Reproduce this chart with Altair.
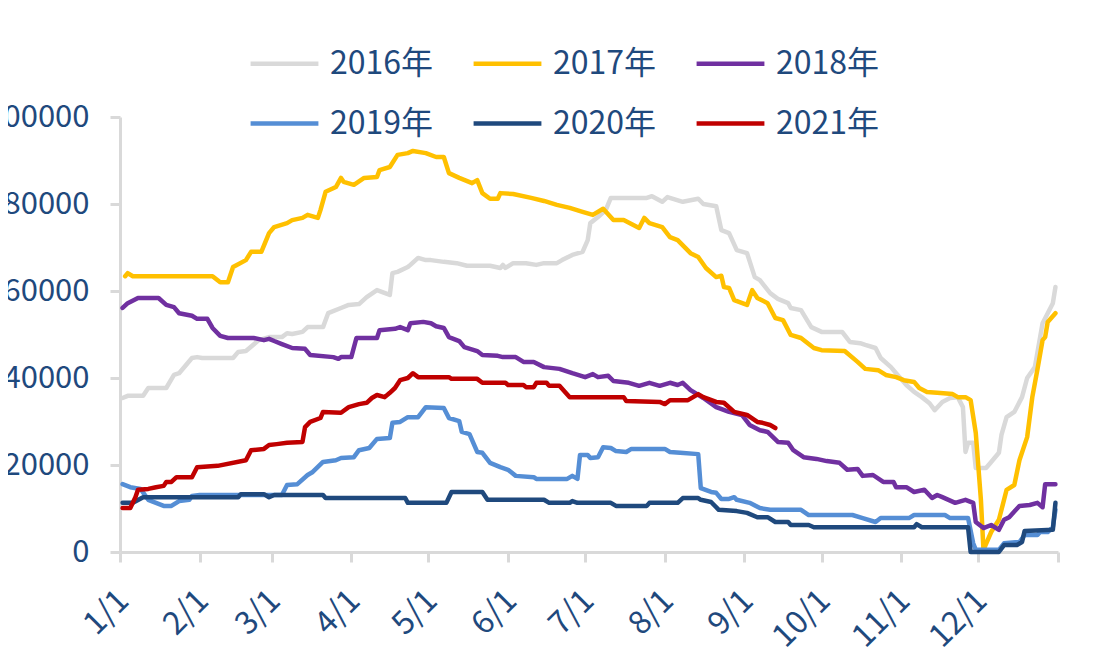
import altair as alt
import pandas as pd

years = ["2016年", "2017年", "2018年", "2019年", "2020年", "2021年"]
colors = ["#D9D9D9", "#FFC000", "#7030A0", "#558ED5", "#1F497D", "#C00000"]
widths = [4.5, 4.5, 4.5, 4.5, 4.5, 8]

month_days = [0, 31, 59, 90, 120, 151, 181, 212, 243, 273, 304, 334, 365]
month_labels = ["1/1", "2/1", "3/1", "4/1", "5/1", "6/1", "7/1", "8/1", "9/1",
                "10/1", "11/1", "12/1", ""]
y_ticks = [0, 20000, 40000, 60000, 80000, 100000]

# day of year (0 = 1/1) and value for each series
d2016 = [1, 3, 9, 11, 18, 21, 23, 28, 30, 32, 44, 46, 49, 54, 58, 63, 65, 67, 71, 73, 79, 81, 86,
         89, 93, 96, 100, 105, 106, 108, 112, 113, 116, 119, 121, 126, 131, 135, 144, 148, 149,
         150, 153, 158, 162, 165, 170, 172, 176, 180, 182, 183, 186, 189, 191, 205, 207, 211, 213,
         219, 225, 227, 232, 234, 237, 240, 244, 247, 249, 253, 256, 260, 261, 265, 269, 273, 281,
         284, 288, 290, 294, 296, 300, 302, 306, 309, 312, 315, 317, 320, 323, 326, 328, 329, 330,
         332, 333, 337, 339, 342, 343, 345, 348, 351, 353, 356, 359, 361, 363, 364]
v2016 = [35400, 35900, 35900, 37700, 37700, 40700, 41100, 44600, 44800, 44600, 44600, 46000, 46200,
         48700, 49400, 49400, 50300, 50100, 50600, 51700, 51700, 54900, 56100, 56800, 57000, 58600,
         60200, 59100, 64100, 64400, 65500, 66000, 67600, 67100, 67100, 66700, 66400, 65800, 65800,
         65300, 66000, 65300, 66400, 66400, 66000, 66400, 66400, 67100, 68300, 69000, 71700, 75600,
         77000, 78600, 81400, 81400, 81800, 80500, 81600, 80500, 81200, 80000, 79500, 74000, 73300,
         69400, 68700, 63200, 62500, 59500, 58200, 57200, 56100, 55600, 51700, 50600, 50600, 48300,
         48000, 47600, 46900, 44600, 42500, 41100, 38400, 36800, 35600, 34200, 32600, 34500, 35400,
         35600, 33300, 23000, 25100, 25100, 19300, 19300, 20700, 22800, 26900, 31000, 32200, 35600,
         40000, 42500, 52600, 54900, 57200, 60900]

d2017 = [2, 3, 5, 36, 39, 42, 44, 49, 51, 55, 58, 60, 65, 67, 71, 73, 77, 78, 80, 84, 86, 87, 91,
         95, 100, 101, 105, 108, 112, 114, 119, 123, 126, 128, 132, 137, 139, 141, 144, 147, 148,
         153, 160, 165, 170, 175, 180, 184, 188, 192, 196, 202, 204, 206, 211, 214, 217, 222, 225,
         228, 232, 234, 235, 237, 239, 244, 246, 248, 252, 255, 258, 261, 265, 270, 273, 282, 287,
         290, 295, 298, 302, 305, 309, 311, 314, 318, 324, 326, 329, 331, 333, 335, 336, 339, 342,
         345, 348, 350, 353, 355, 357, 359, 360, 361, 364]
v2017 = [63400, 64100, 63400, 63400, 62000, 62000, 65500, 67100, 69000, 69000, 73300, 74700, 75600,
         76300, 76800, 77500, 76800, 78600, 82800, 83900, 86000, 85100, 84400, 86000, 86200, 87800,
         88500, 91300, 91700, 92200, 91700, 90800, 90800, 87100, 86000, 84800, 85500, 82500, 81200,
         81200, 82500, 82300, 81400, 80700, 79800, 79100, 78200, 77500, 78900, 76300, 76300, 74500,
         76800, 75600, 74700, 72400, 71700, 68700, 67800, 65300, 63200, 63500, 60900, 60700, 57900,
         56800, 60200, 58400, 57200, 53800, 53300, 49900, 49200, 46900, 46400, 46200, 43700, 42100,
         41800, 40700, 40200, 39500, 39100, 37700, 36800, 36600, 36300, 35600, 35600, 34900, 27400,
         12000, 500, 4600, 7400, 14300, 15400, 21100, 26400, 35600, 42000, 48700, 49400, 52900,
         54900]

d2018 = [1, 3, 7, 15, 18, 21, 23, 28, 30, 34, 36, 39, 42, 52, 56, 58, 60, 63, 67, 72, 74, 83, 85,
         86, 90, 92, 100, 101, 107, 109, 112, 113, 118, 121, 123, 126, 128, 132, 134, 139, 141, 147,
         149, 154, 157, 161, 165, 171, 176, 181, 184, 186, 190, 192, 198, 202, 206, 210, 214, 217,
         219, 222, 227, 232, 237, 242, 245, 249, 252, 256, 260, 262, 266, 271, 275, 280, 283, 287,
         289, 293, 297, 301, 302, 306, 309, 313, 316, 318, 320, 325, 329, 332, 333, 336, 339, 342,
         344, 346, 350, 354, 357, 359, 360, 364]
v2018 = [56100, 57200, 58400, 58400, 56800, 56300, 54900, 54300, 53600, 53600, 51500, 49700, 49200,
         49200, 48700, 49000, 48500, 47800, 46900, 46700, 45300, 44800, 44400, 44800, 44800, 49200,
         49200, 51000, 51300, 51700, 51000, 52600, 52900, 52600, 51900, 51500, 49400, 48500, 47100,
         46200, 45300, 45100, 44800, 44800, 43700, 43700, 42500, 42100, 41100, 40200, 40900, 40200,
         40500, 39300, 38900, 38200, 38900, 38200, 38900, 38400, 38900, 37200, 35400, 33300, 32200,
         31500, 29200, 28000, 27600, 25300, 25100, 23400, 21800, 21400, 20900, 20500, 18900, 19100,
         17500, 17700, 16100, 16100, 14900, 14900, 13800, 14300, 12400, 13100, 12600, 11300, 12000,
         11300, 6900, 5500, 6200, 5100, 7400, 8000, 10600, 10800, 11300, 10300, 15600, 15600]

d2019 = [1, 4, 8, 11, 17, 20, 23, 27, 28, 31, 63, 65, 69, 73, 75, 79, 84, 86, 91, 93, 97, 100, 105,
         106, 109, 112, 116, 119, 126, 128, 132, 133, 136, 139, 141, 144, 148, 151, 154, 161, 162,
         174, 176, 178, 179, 182, 183, 186, 188, 191, 193, 197, 199, 212, 214, 218, 225, 226, 230,
         232, 234, 237, 239, 240, 245, 249, 253, 265, 268, 285, 289, 294, 296, 307, 309, 321, 323,
         330, 332, 333, 342, 344, 350, 352, 357, 358, 361, 363, 364]
v2019 = [15600, 14900, 14500, 12000, 10600, 10600, 11700, 12000, 12900, 13100, 13100, 15400, 15600,
         17700, 18400, 20700, 21100, 21600, 21800, 23400, 23900, 26000, 26200, 29700, 29900, 31000,
         31000, 33300, 33100, 30800, 30100, 27600, 27100, 23000, 22800, 20500, 19500, 18900, 17500,
         17200, 16800, 16800, 17500, 16800, 22300, 22300, 21600, 21800, 24100, 23900, 23200, 23000,
         23700, 23700, 23000, 22800, 22500, 14700, 13800, 13600, 12200, 12200, 12600, 12000, 11300,
         10100, 9700, 9700, 8500, 8500, 7800, 6900, 7800, 7800, 8500, 8500, 7800, 7800, 2000, 500,
         500, 2000, 2300, 3900, 3900, 4600, 4600, 5700, 9700]

d2020 = [1, 5, 9, 46, 47, 56, 58, 60, 79, 80, 111, 112, 127, 129, 141, 143, 165, 167, 175, 176,
         178, 191, 193, 205, 206, 217, 219, 225, 226, 230, 233, 240, 244, 248, 252, 255, 260, 261,
         268, 270, 309, 310, 312, 330, 331, 342, 344, 349, 351, 352, 363, 364]
v2020 = [11300, 11300, 12600, 12600, 13300, 13300, 12600, 13100, 13100, 12400, 12400, 11300, 11300,
         13800, 13800, 12000, 12000, 11300, 11300, 11700, 11300, 11300, 10600, 10600, 11300, 11300,
         12400, 12400, 12000, 11500, 9700, 9400, 9000, 8000, 8000, 6900, 6900, 6200, 6200, 5700,
         5700, 6400, 5700, 5700, 0, 0, 1600, 1600, 2300, 4800, 5100, 11300]

d2021 = [1, 4, 6, 7, 11, 14, 17, 18, 20, 22, 28, 30, 38, 49, 51, 56, 58, 61, 65, 71, 72, 74, 78,
         79, 86, 89, 93, 96, 98, 100, 103, 105, 107, 109, 112, 114, 116, 128, 129, 139, 141, 150,
         151, 157, 158, 161, 162, 166, 167, 171, 175, 196, 197, 210, 212, 214, 221, 225, 227, 232,
         235, 239, 244, 248, 250, 253, 255]
v2021 = [10100, 10100, 12600, 14300, 14500, 14900, 15200, 16100, 16100, 17200, 17200, 19500, 19800,
         21100, 23400, 23700, 24600, 24800, 25100, 25300, 28700, 29900, 30800, 32200, 32000, 33300,
         34000, 34300, 35400, 36100, 35600, 36600, 37700, 39500, 40000, 41100, 40200, 40200, 39800,
         39800, 38900, 38900, 38400, 38400, 37900, 37900, 38900, 38900, 38200, 38200, 35600, 35600,
         34700, 34500, 34000, 34900, 34900, 36300, 35600, 34500, 34300, 32200, 31500, 29900, 29700,
         29200, 28500]

series = [(d2016, v2016), (d2017, v2017), (d2018, v2018),
          (d2019, v2019), (d2020, v2020), (d2021, v2021)]
frames = []
for name, (d, v) in zip(years, series):
    frames.append(pd.DataFrame({"day": d, "value": v, "year": name}))
df = pd.concat(frames, ignore_index=True)

text_color = "#1F497D"
font = "Noto Sans CJK SC"
axis_gray = "#D9D9D9"

label_expr = ("[" + ",".join("'" + s + "'" for s in month_labels) + "][indexof(["
              + ",".join(str(m) for m in month_days) + "], datum.value)]")

legend = alt.Legend(
    title=None, orient="none", legendX=128, legendY=-90, columns=3, direction="horizontal",
    symbolType="stroke", symbolSize=4600, labelFontSize=32, labelFont=font,
    labelColor=text_color, labelOffset=9, columnPadding=30, rowPadding=7,
    labelLimit=300,
)

chart = alt.Chart(df).mark_line(strokeCap="round", strokeJoin="round").encode(
    x=alt.X("day:Q",
            scale=alt.Scale(domain=[0, 365], nice=False, zero=False),
            axis=alt.Axis(values=month_days, labelExpr=label_expr, title=None, grid=False,
                          labelAngle=-45, labelAlign="right", labelBaseline="middle",
                          labelFontSize=32, labelFont=font, labelColor=text_color,
                          labelPadding=33, labelOffset=3, labelOverlap=False, labelFlush=False,
                          tickSize=10, tickColor=axis_gray, tickWidth=3,
                          domainColor=axis_gray, domainWidth=3)),
    y=alt.Y("value:Q",
            scale=alt.Scale(domain=[0, 100000], nice=False),
            axis=alt.Axis(values=y_ticks, title=None, grid=False, format="d",
                          labelFontSize=31, labelFont=font, labelColor=text_color,
                          labelPadding=21, tickSize=10, tickColor=axis_gray, tickWidth=3,
                          domainColor=axis_gray, domainWidth=3)),
    color=alt.Color("year:N", scale=alt.Scale(domain=years, range=colors), legend=legend),
    strokeWidth=alt.StrokeWidth("year:N", scale=alt.Scale(domain=years, range=widths),
                                legend=legend),
    order=alt.Order("day:Q"),
).properties(
    width=938, height=435,
    autosize=alt.AutoSizeParams(type="none"),
    padding={"left": 112, "top": 109, "right": 40, "bottom": 112},
    background="white",
).configure_view(stroke="transparent")

chart.save("out.html", embed_options={"renderer": "svg", "actions": False})
